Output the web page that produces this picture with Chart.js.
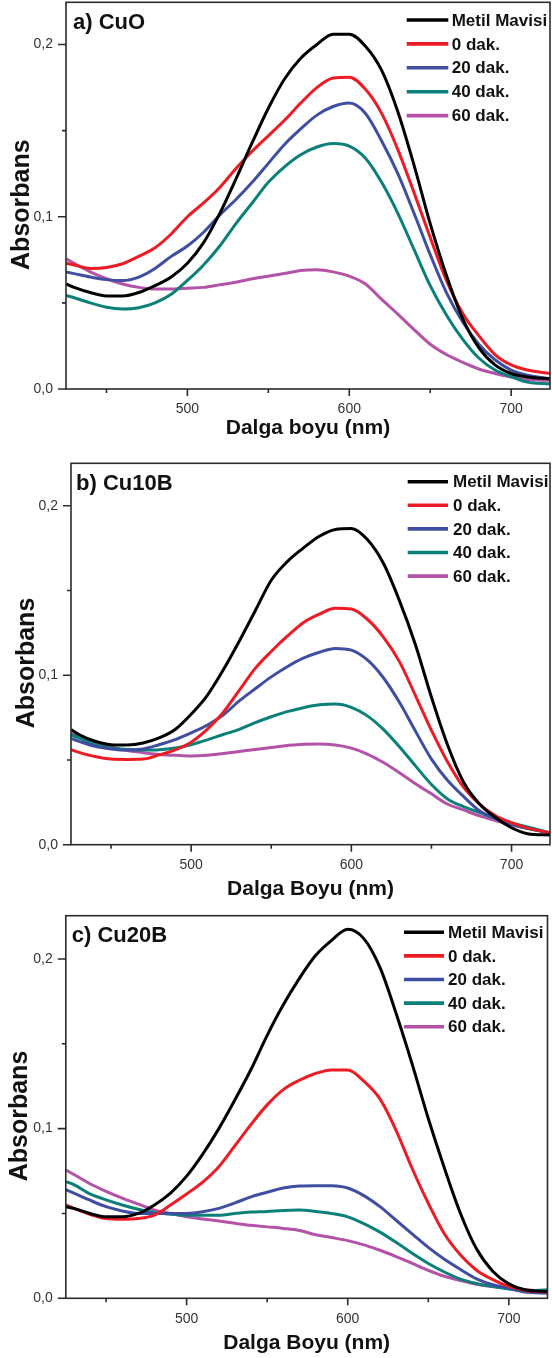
<!DOCTYPE html>
<html><head><meta charset="utf-8">
<script src="https://cdn.jsdelivr.net/npm/chart.js@4.4.1/dist/chart.umd.min.js"></script>
<style>
html,body{margin:0;padding:0;background:#fff;}
body{width:552px;height:1358px;position:relative;overflow:hidden;}
canvas{position:absolute;left:0;display:block;}
</style></head><body>
<canvas id="ca" width="552" height="445" style="top:0px"></canvas>
<canvas id="cb" width="552" height="460" style="top:445px"></canvas>
<canvas id="cc" width="552" height="453" style="top:905px"></canvas>
<script>
// ---- data ----
const wavelengths = [425,430,440,450,460,470,480,490,500,510,520,530,540,550,560,570,580,590,600,610,620,630,640,650,660,670,680,690,700,710,724];
const seriesLabels = ['Metil Mavisi','0 dak.','20 dak.','40 dak.','60 dak.'];
const seriesColors = ['#000000','#ed1c24','#3f4ea1','#0b7f79','#b352a6'];
const xTickValues = [500,600,700];
const xMinorValues = [450,550,650];
const yTickValues = [0,0.1,0.2];
const yTickLabels = ['0,0','0,1','0,2'];
const yMinorValues = [0.05,0.15];

// a) CuO
const aMetil = [.061,.059,.056,.054,.054,.056,.060,.065,.073,.085,.102,.122,.143,.163,.180,.192,.200,.206,.206,.199,.185,.161,.130,.096,.066,.041,.024,.014,.009,.007,.006];
const a0  = [.073,.072,.070,.0705,.0727,.077,.082,.090,.100,.108,.117,.128,.138,.147,.156,.166,.175,.1805,.181,.174,.160,.139,.114,.088,.063,.044,.031,.020,.014,.011,.009];
const a20 = [.068,.067,.065,.0635,.063,.065,.070,.077,.083,.091,.101,.110,.120,.131,.142,.151,.159,.164,.166,.160,.144,.125,.102,.078,.056,.039,.026,.017,.011,.008,.006];
const a40 = [.0543,.053,.050,.0475,.0465,.0472,.050,.055,.063,.072,.083,.096,.108,.120,.129,.136,.1405,.1425,.141,.134,.120,.102,.081,.060,.043,.029,.018,.011,.0072,.004,.003];
const a60 = [.0756,.073,.068,.064,.061,.059,.058,.058,.0585,.059,.0605,.062,.064,.0655,.067,.0688,.0692,.068,.0655,.061,.052,.0435,.0345,.026,.020,.0155,.0116,.009,.007,.0055,.005];
// b) Cu10B
const bMetil = [.068,.065,.061,.059,.0588,.060,.063,.068,.077,.088,.103,.120,.138,.156,.167,.175,.182,.186,.1866,.180,.166,.144,.118,.087,.059,.037,.024,.016,.010,.0065,.0057];
const b0  = [.056,.0545,.052,.0505,.0503,.0505,.053,.056,.0605,.068,.078,.091,.104,.114,.123,.131,.136,.1395,.139,.133,.1225,.108,.088,.0675,.049,.034,.024,.017,.013,.0098,.007];
const b20 = [.0627,.061,.058,.0565,.0558,.0565,.059,.062,.066,.0705,.0765,.0848,.092,.099,.105,.110,.1135,.1158,.1148,.109,.0985,.084,.067,.0505,.038,.0285,.020,.0155,.012,.0095,.007];
const b40 = [.0647,.063,.059,.057,.0562,.0558,.056,.057,.059,.0618,.065,.068,.072,.0755,.0785,.0808,.0825,.083,.081,.076,.068,.0578,.0465,.0355,.027,.0225,.019,.0155,.0128,.0105,.007];
const b60 = [.0657,.064,.060,.0575,.0555,.0543,.0532,.0527,.0523,.0527,.0538,.055,.0562,.0573,.0585,.0593,.0594,.0588,.057,.0535,.0485,.0425,.036,.030,.024,.0205,.017,.0143,.0116,.0098,.007];
// c) Cu20B
const cMetil = [.054,.053,.050,.048,.048,.050,.055,.062,.072,.085,.100,.117,.135,.155,.173,.1886,.202,.211,.2175,.212,.195,.168,.138,.106,.0768,.050,.029,.016,.0085,.005,.004];
const c0  = [.055,.053,.0495,.047,.0466,.047,.049,.055,.0615,.0685,.0776,.090,.1025,.114,.123,.1285,.1325,.1346,.1345,.128,.1175,.099,.0765,.056,.038,.0255,.0165,.011,.007,.0048,.0035];
const c20 = [.064,.062,.0578,.054,.0515,.050,.050,.050,.050,.051,.053,.0562,.0598,.0625,.065,.0662,.0664,.0663,.065,.0605,.054,.046,.038,.030,.023,.017,.0115,.008,.006,.0037,.003];
const c40 = [.0688,.067,.0615,.058,.055,.0525,.0505,.0495,.049,.049,.049,.050,.0508,.0512,.0518,.052,.0512,.050,.048,.044,.039,.033,.0265,.0205,.0155,.0113,.0087,.0069,.0055,.0045,.005];
const c60 = [.0756,.073,.0675,.063,.059,.0555,.052,.050,.048,.0468,.0455,.0442,.043,.0421,.0412,.040,.0375,.0358,.034,.0315,.0283,.0246,.0206,.0165,.013,.0105,.0083,.0069,.006,.005,.004];

const FONT = '"Liberation Sans", Arial, Helvetica, sans-serif';

const decoPlugin = {
  id: 'deco',
  afterDatasetsDraw(chart, args, o) {
    const {ctx, chartArea: a, scales: {x, y}} = chart;
    ctx.save();
    ctx.strokeStyle = '#2b2b2b';
    ctx.lineWidth = 1.6;
    ctx.strokeRect(a.left, a.top, a.right - a.left, a.bottom - a.top);
    ctx.beginPath();
    xTickValues.forEach(v => { const p = x.getPixelForValue(v); ctx.moveTo(p, a.bottom); ctx.lineTo(p, a.bottom + 7); });
    xMinorValues.forEach(v => { const p = x.getPixelForValue(v); ctx.moveTo(p, a.bottom); ctx.lineTo(p, a.bottom + 4); });
    yTickValues.forEach(v => { const p = y.getPixelForValue(v); ctx.moveTo(a.left, p); ctx.lineTo(a.left - 8, p); });
    yMinorValues.forEach(v => { const p = y.getPixelForValue(v); ctx.moveTo(a.left, p); ctx.lineTo(a.left - 4, p); });
    ctx.stroke();
    // panel label
    ctx.fillStyle = '#111';
    ctx.textBaseline = 'middle';
    ctx.textAlign = 'left';
    ctx.font = 'bold 22px ' + FONT;
    ctx.fillText(o.label, a.left + o.labelDx, a.top + o.labelDy);
    // legend
    ctx.font = 'bold 17px ' + FONT;
    chart.data.datasets.forEach((ds, i) => {
      const yy = a.top + o.legTop + i * o.legGap;
      ctx.strokeStyle = ds.borderColor;
      ctx.lineWidth = 3.6;
      ctx.beginPath();
      ctx.moveTo(a.right + o.legLine0, yy);
      ctx.lineTo(a.right + o.legLine1, yy);
      ctx.stroke();
      ctx.fillStyle = '#111';
      ctx.fillText(ds.label, a.right + o.legText, yy + 1);
    });
    // y axis title
    ctx.translate(o.yTitleX, (a.top + a.bottom) / 2 + 9);
    ctx.rotate(-Math.PI / 2);
    ctx.textAlign = 'center';
    ctx.font = 'bold 25px ' + FONT;
    ctx.fillStyle = '#111';
    ctx.fillText('Absorbans', 0, 0);
    ctx.restore();
  }
};

function makePanel(canvasId, series, cfg) {
  const datasets = series.map((vals, i) => ({
    label: seriesLabels[i],
    data: wavelengths.map((w, k) => ({x: w, y: vals[k]})),
    borderColor: seriesColors[i],
    backgroundColor: seriesColors[i],
    borderWidth: 3,
    pointRadius: 0,
    cubicInterpolationMode: 'monotone',
    fill: false,
    order: i
  }));
  return new Chart(document.getElementById(canvasId), {
    type: 'line',
    data: {datasets},
    plugins: [decoPlugin],
    options: {
      responsive: false,
      animation: false,
      events: [],
      layout: {padding: cfg.pad},
      plugins: {
        legend: {display: false},
        tooltip: {enabled: false},
        deco: cfg.deco
      },
      scales: {
        x: {
          type: 'linear', position: 'bottom',
          min: 425, max: 724,
          grid: {display: false, drawTicks: false},
          border: {display: false},
          afterBuildTicks: s => { s.ticks = xTickValues.map(v => ({value: v})); },
          afterFit: s => { s.height = cfg.xHeight; s.paddingLeft = 0; s.paddingRight = 0; },
          ticks: {
            autoSkip: false, maxRotation: 0, padding: 12,
            color: '#333', font: {family: FONT, size: 14},
            callback: v => String(v)
          },
          title: {
            display: true, text: cfg.xTitle, color: '#111',
            font: {family: FONT, size: 21, weight: 'bold'},
            padding: {top: 0, bottom: cfg.titlePadBottom}
          }
        },
        y: {
          type: 'linear', position: 'left',
          min: 0, max: cfg.yMax,
          grid: {display: false, drawTicks: false},
          border: {display: false},
          afterBuildTicks: s => { s.ticks = yTickValues.map(v => ({value: v})); },
          afterFit: s => { s.width = cfg.yWidth; s.paddingTop = 0; s.paddingBottom = 0; },
          ticks: {
            padding: 13, color: '#333', font: {family: FONT, size: 14},
            callback: v => yTickLabels[yTickValues.indexOf(v)]
          }
        }
      }
    }
  });
}

makePanel('ca', [aMetil, a0, a20, a40, a60], {
  pad: {left: 0, top: 2.3, right: 2, bottom: 0}, yWidth: 66, xHeight: 56, yMax: 0.2245,
  titlePadBottom: 4.4, xTitle: 'Dalga boyu (nm)',
  deco: {label: 'a) CuO', labelDx: 7, labelDy: 20.7, legTop: 17.7, legGap: 23.9,
         legLine0: -143.3, legLine1: -101.7, legText: -98.3, yTitleX: 22.5}
});
makePanel('cb', [bMetil, b0, b20, b40, b60], {
  pad: {left: 0, top: 18.3, right: 2, bottom: 0}, yWidth: 71, xHeight: 60.3, yMax: 0.225,
  titlePadBottom: 2.9, xTitle: 'Dalga Boyu (nm)',
  deco: {label: 'b) Cu10B', labelDx: 5, labelDy: 20.8, legTop: 18.4, legGap: 23.6,
         legLine0: -142.3, legLine1: -102, legText: -97, yTitleX: 26.8}
});
makePanel('cc', [cMetil, c0, c20, c40, c60], {
  pad: {left: 0, top: 10.7, right: 4.5, bottom: 0}, yWidth: 65.8, xHeight: 59.7, yMax: 0.2255,
  titlePadBottom: 2.4, xTitle: 'Dalga Boyu (nm)',
  deco: {label: 'c) Cu20B', labelDx: 6, labelDy: 20.6, legTop: 16.6, legGap: 23.6,
         legLine0: -143.5, legLine1: -103.5, legText: -99.5, yTitleX: 20.6}
});
</script>
</body></html>
